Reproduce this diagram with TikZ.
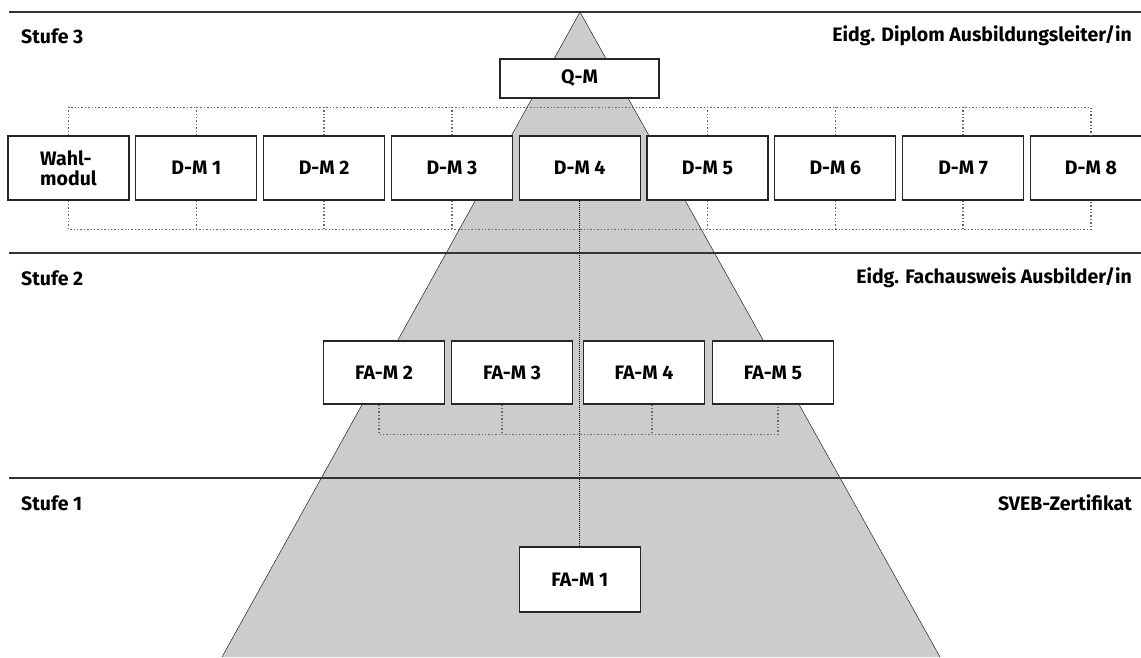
\documentclass[tikz,border=0pt]{standalone}
\usepackage{fontspec}
\setmainfont{Fira Sans}
\usetikzlibrary{calc}

\begin{document}
\begin{tikzpicture}[x=1pt,y=-1pt,
	modul/.style={draw=black!85,line width=1.3pt,fill=white,
		minimum width=121pt,minimum height=64pt,inner sep=0pt,
		font=\fontsize{19.5}{20}\selectfont\bfseries},
	stufe/.style={font=\fontsize{19.5}{20}\selectfont\bfseries,inner sep=0pt},
	link/.style={black!60,dotted,line width=1.4pt},
	mitte/.style={black,densely dotted,line width=1pt},
	grenze/.style={black!80,line width=1.5pt}]

	\useasboundingbox (0,0) rectangle (1141,657);

	% pyramide
	\coordinate (S) at (580,12);
	\coordinate (L) at (222,657);
	\coordinate (R) at (940,657);
	\fill[black!20] (S)--(L)--(R)--cycle;
	\draw[thin] (L)--(S)--(R);

	\draw[grenze] (9,12)--(1141,12) (9,253)--(1141,253) (9,478)--(1141,478);

	\node[stufe,anchor=west] (st3) at (21,36) {Stufe 3};
	\node[stufe,anchor=west] (st2) at (21,278) {Stufe 2};
	\node[stufe,anchor=west] (st1) at (21,503) {Stufe 1};
	\node[stufe,anchor=east] (ab3) at (1132,36) {Eidg. Diplom Ausbildungsleiter/in};
	\node[stufe,anchor=east] (ab2) at (1132,278) {Eidg. Fachausweis Ausbilder/in};
	\node[stufe,anchor=east] (ab1) at (1132,503) {SVEB-Zertifikat};

%	=======================================

	\node[modul,minimum width=159pt,minimum height=39pt] (qm) at (579.5,78.5) {Q-M};

	\node[modul,align=left] (wahl) at (68.5,168) {Wahl-\\modul};
	\foreach \i in {1,...,8}
		\node[modul] (dm\i) at ({68.5+127.8*\i},168) {D-M \i};

	\draw[link] (wahl.north)--++(0,-28) coordinate (t0) -| (dm8.north);
	\draw[link] (wahl.south)--++(0,29) coordinate (b0) -| (dm8.south);
	\foreach \i in {1,2,3,5,6,7}
		\draw[link] (dm\i.north)--(dm\i.north |- t0)
			(dm\i.south)--(dm\i.south |- b0);

%	=======================================

	\node[modul,minimum height=63pt] (fam2) at (384,372.5) {FA-M 2};
	\node[modul,minimum height=63pt] (fam3) at (512,372.5) {FA-M 3};
	\node[modul,minimum height=63pt] (fam4) at (644,372.5) {FA-M 4};
	\node[modul,minimum height=63pt] (fam5) at (773,372.5) {FA-M 5};

	\draw[link] ([xshift=-5pt]fam2.south)--++(0,30) coordinate (f0)
		-| ([xshift=5pt]fam5.south);
	\draw[link] ([xshift=-10pt]fam3.south)--([xshift=-10pt]fam3.south |- f0)
		([xshift=8pt]fam4.south)--([xshift=8pt]fam4.south |- f0);

	\node[modul,minimum height=65pt] (fam1) at (dm4 |- 0,579.5) {FA-M 1};

	\draw[mitte] (dm4.south)--(fam1.north);
\end{tikzpicture}
\end{document}
